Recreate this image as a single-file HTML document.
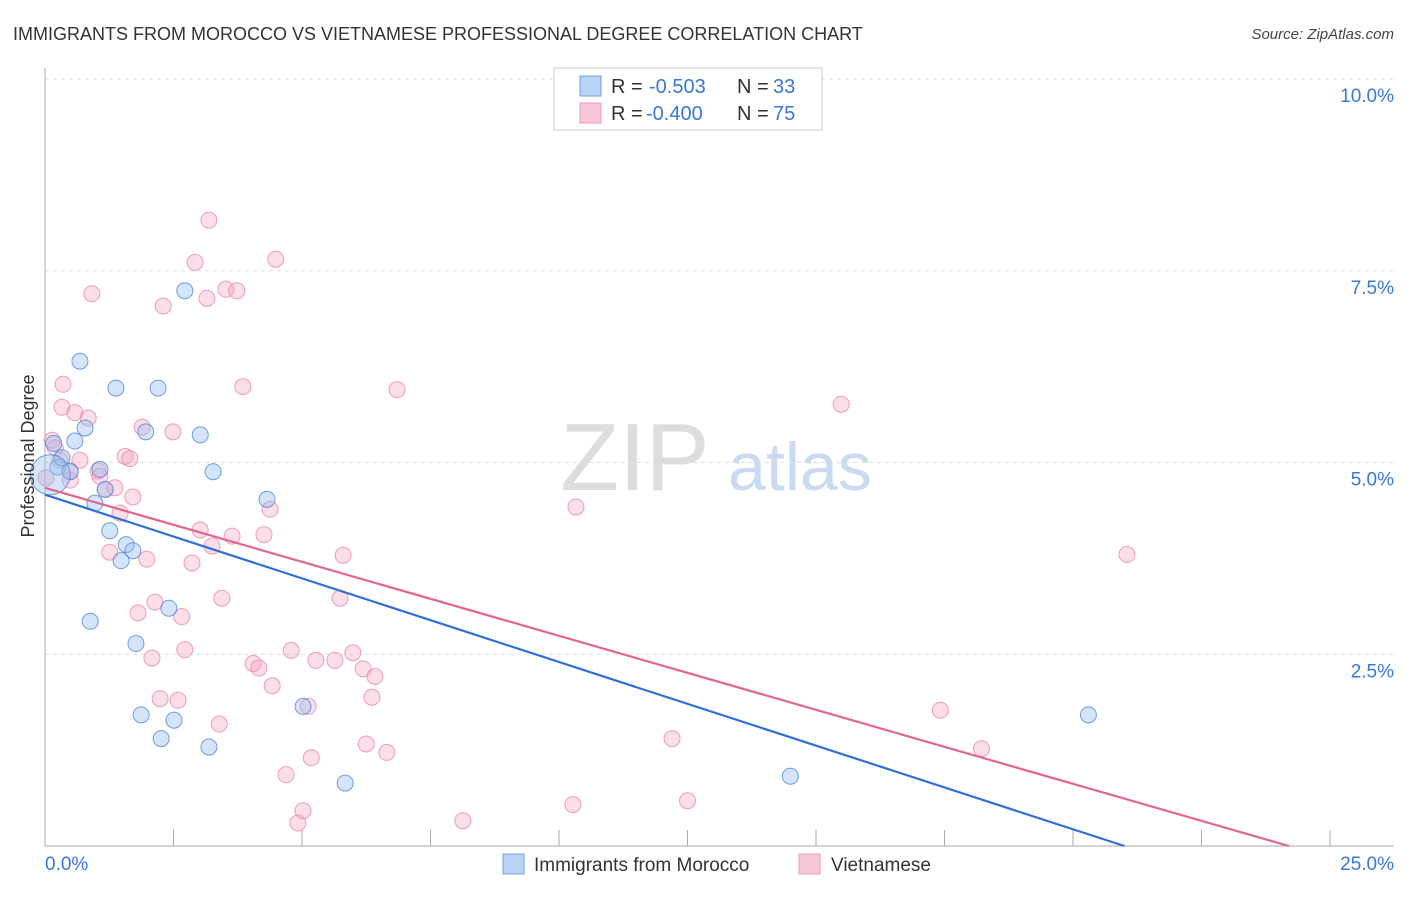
<!DOCTYPE html>
<html><head><meta charset="utf-8">
<style>
body{margin:0;background:#fff;font-family:"Liberation Sans",sans-serif;}
svg text{font-family:"Liberation Sans",sans-serif;}
</style></head>
<body>
<svg id="chart" width="1406" height="892" viewBox="0 0 1406 892" xmlns="http://www.w3.org/2000/svg">
<text x="13" y="40" font-size="18" fill="#333">IMMIGRANTS FROM MOROCCO VS VIETNAMESE PROFESSIONAL DEGREE CORRELATION CHART</text>
<text x="1394" y="39" font-size="15" fill="#444" text-anchor="end" font-style="italic">Source: ZipAtlas.com</text>
<g>
<text x="635" y="490" font-size="96" fill="#ddd" text-anchor="middle" font-family="Liberation Serif,serif">ZIP</text>
<text x="800" y="490" font-size="68" fill="#c9daf2" text-anchor="middle">atlas</text>
</g>
<g id="grid"></g>
<g id="axes"></g>
<g id="marks"></g>
<text transform="translate(34,456) rotate(-90)" font-size="18" fill="#333" text-anchor="middle">Professional Degree</text>
<g>
<rect x="554" y="68" width="268" height="62" fill="#fff" stroke="#ccc"/>
<rect x="580" y="76" width="21" height="20" fill="#b9d3f5" stroke="#6f9fe0"/>
<text x="611" y="93" font-size="20" fill="#333">R =</text><text x="649" y="93" font-size="20" fill="#3a78d8">-0.503</text>
<text x="737" y="93" font-size="20" fill="#333">N =</text><text x="773" y="93" font-size="20" fill="#3a78d8">33</text>
<rect x="580" y="103" width="21" height="20" fill="#f9c8d6" stroke="#ec9ab2"/>
<text x="611" y="120" font-size="20" fill="#333">R =</text><text x="646" y="120" font-size="20" fill="#3a78d8">-0.400</text>
<text x="737" y="120" font-size="20" fill="#333">N =</text><text x="773" y="120" font-size="20" fill="#3a78d8">75</text>
</g>
<g>
<rect x="503" y="854" width="21" height="20" fill="#b9d3f5" stroke="#6f9fe0"/>
<text x="534" y="871" font-size="19" fill="#333">Immigrants from Morocco</text>
<rect x="799" y="854" width="21" height="20" fill="#f9c8d6" stroke="#ec9ab2"/>
<text x="831" y="871" font-size="19" fill="#333">Vietnamese</text>
</g>
</svg>
<script>
const xTicks=[0,2.5,5,7.5,10,12.5,15,17.5,20,22.5,25];
const yTicks=[2.5,5,7.5,10];
const yTickLabels=["2.5%","5.0%","7.5%","10.0%"];
const moroccoX=[0.17,0.25,0.33,0.49,0.58,0.68,0.78,0.88,0.97,1.07,1.17,1.26,1.38,1.48,1.58,1.71,1.77,1.87,1.96,2.2,2.26,2.41,2.51,2.72,3.02,3.19,3.27,4.32,5.02,5.84,14.5,20.3,0.1];
const moroccoY=[5.25,4.94,5.06,4.88,5.28,6.32,5.45,2.93,4.47,4.91,4.65,4.11,5.97,3.72,3.93,3.85,2.64,1.71,5.4,5.97,1.4,3.1,1.64,7.24,5.36,1.29,4.88,4.52,1.82,0.82,0.91,1.71,4.84];
const vietX=[0.14,0.2,0.29,0.35,0.33,0.49,0.58,0.68,0.84,0.91,1.03,1.07,1.17,1.26,1.36,1.46,1.56,1.65,1.71,1.81,1.89,1.98,2.08,2.14,2.24,2.3,2.49,2.59,2.66,2.72,2.86,2.92,3.02,3.15,3.19,3.25,3.39,3.44,3.52,3.64,3.73,3.85,4.05,4.16,4.26,4.38,4.42,4.49,4.69,4.79,4.92,5.02,5.12,5.18,5.27,5.64,5.74,5.8,5.99,6.19,6.25,6.36,6.42,6.65,6.85,8.13,10.27,10.33,12.2,12.5,15.49,17.42,18.22,21.05,0.02,0.49];
const vietY=[5.29,5.19,5.03,6.02,5.72,4.77,5.65,5.03,5.58,7.2,4.89,4.82,4.65,3.83,4.67,4.34,5.08,5.05,4.55,3.04,5.46,3.74,2.45,3.18,1.92,7.04,5.4,1.9,2.99,2.56,3.69,7.61,4.12,7.14,8.16,3.91,1.59,3.23,7.26,4.04,7.24,5.99,2.38,2.32,4.06,4.39,2.09,7.65,0.93,2.55,0.3,0.46,1.82,1.15,2.42,2.42,3.23,3.79,2.52,2.31,1.33,1.94,2.21,1.22,5.95,0.33,0.54,4.42,1.4,0.59,5.76,1.77,1.27,3.8,4.8,4.89];
const trendBlue=[4.58,21.0];
const trendPink=[4.67,24.2];
const X=v=>45+v*51.4, Y=v=>846-v*76.7;
const ns="http://www.w3.org/2000/svg";
function mk(tag,attrs,parent){const e=document.createElementNS(ns,tag);for(const k in attrs)e.setAttribute(k,attrs[k]);parent.appendChild(e);return e;}
const grid=document.getElementById('grid'),axes=document.getElementById('axes'),marks=document.getElementById('marks');
yTicks.forEach((t,i)=>{
 const l=mk('line',{x1:45,x2:1394,y1:Y(t),y2:Y(t),stroke:'#ddd','stroke-dasharray':'4,4'},grid);
 
 
 const tx=mk('text',{x:1394,y:Y(t)+23,'font-size':19,fill:'#3a78d8','text-anchor':'end'},axes);
 tx.textContent=yTickLabels[i];
 
 
});
const ax=mk('line',{x1:45,x2:45,y1:68,y2:846,stroke:'#aaa'},axes);


const bx=mk('line',{x1:45,x2:1394,y1:846,y2:846,stroke:'#aaa'},axes);


xTicks.slice(1).forEach(t=>{
 const l=mk('line',{x1:X(t),x2:X(t),y1:830,y2:846,stroke:'#aaa'},axes);
 
 
});
const xl0=mk('text',{x:45,y:870,'font-size':19,fill:'#3a78d8'},axes);xl0.textContent='0.0%';


const xl1=mk('text',{x:1394,y:870,'font-size':19,fill:'#3a78d8','text-anchor':'end'},axes);xl1.textContent='25.0%';


vietX.forEach((v,i)=>{
 const c=mk('circle',{cx:X(v),cy:Y(vietY[i]),r:8,fill:'rgba(244,160,188,0.35)',stroke:'rgba(232,130,165,0.75)','stroke-width':1},marks);
 
 
});
moroccoX.forEach((v,i)=>{
 const big=i===moroccoX.length-1;
 const c=mk('circle',{cx:X(v),cy:Y(moroccoY[i]),r:big?20:8,fill:'rgba(150,190,240,0.4)',stroke:'rgba(80,135,215,0.8)','stroke-width':1},marks);
 
 
});
const tb=mk('line',{x1:X(0),y1:Y(trendBlue[0]),x2:X(trendBlue[1]),y2:Y(0),stroke:'#2f6fd8','stroke-width':2.2},marks);


const tp=mk('line',{x1:X(0),y1:Y(trendPink[0]),x2:X(trendPink[1]),y2:Y(0),stroke:'#e2668f','stroke-width':2.2},marks);


</script>
</body></html>
